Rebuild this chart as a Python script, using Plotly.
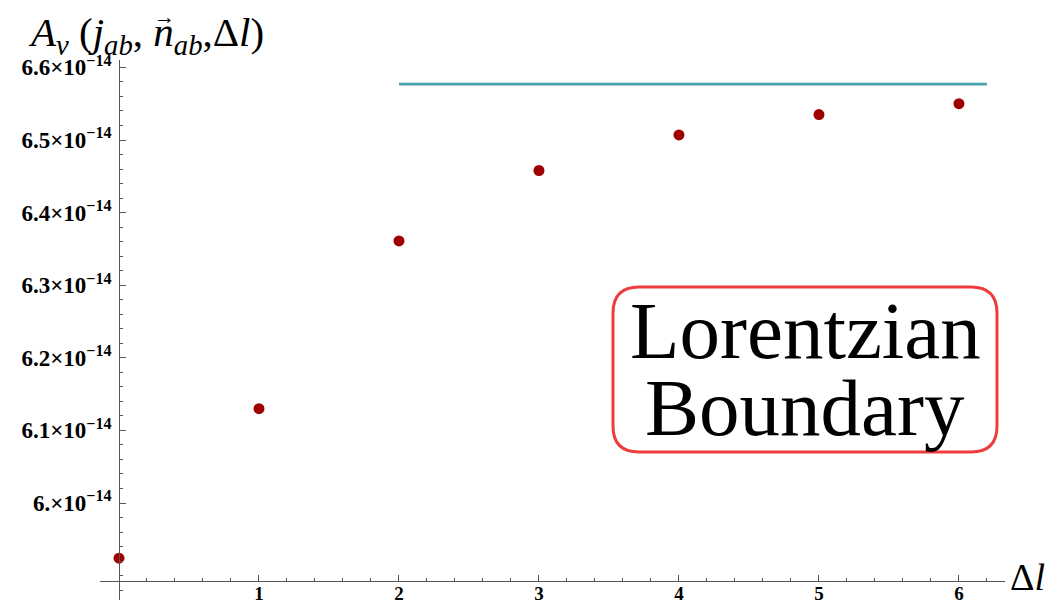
import plotly.graph_objects as go

# ---- data ----
delta_l = [0, 1, 2, 3, 4, 5, 6]
a_v = [5.924e-14, 6.130e-14, 6.361e-14, 6.458e-14, 6.507e-14, 6.535e-14, 6.550e-14]
asym_x = [2, 6.2]
asym_y = [6.577e-14, 6.577e-14]

x_tickvals = [0, 1, 2, 3, 4, 5, 6]
x_ticktext = ["", "1", "2", "3", "4", "5", "6"]
y_tickvals = [6.0e-14, 6.1e-14, 6.2e-14, 6.3e-14, 6.4e-14, 6.5e-14, 6.6e-14]
y_ticktext = ["6.\u00d710<sup>\u221214</sup>", "6.1\u00d710<sup>\u221214</sup>",
              "6.2\u00d710<sup>\u221214</sup>", "6.3\u00d710<sup>\u221214</sup>",
              "6.4\u00d710<sup>\u221214</sup>", "6.5\u00d710<sup>\u221214</sup>",
              "6.6\u00d710<sup>\u221214</sup>"]

W, H = 1053, 604
ML, MR, MT, MB = 100, 48, 60, 4
PW, PH = W - ML - MR, H - MT - MB


def px(x):
    return (x - ML) / PW


def py(y):
    return (H - MB - y) / PH


fig = go.Figure()
fig.add_trace(go.Scatter(x=asym_x, y=asym_y, mode="lines",
                         line=dict(color="#4aa2ae", width=2.6),
                         hoverinfo="skip", showlegend=False))
fig.add_trace(go.Scatter(x=delta_l, y=a_v, mode="markers",
                         marker=dict(color="#9e0000", size=11, line=dict(width=0)),
                         showlegend=False))

serif = "Liberation Serif"
axcol = "#555555"

fig.update_layout(
    width=W, height=H, autosize=False,
    margin=dict(l=ML, r=MR, t=MT, b=MB, autoexpand=False),
    plot_bgcolor="white", paper_bgcolor="white",
    xaxis=dict(range=[-0.1357, 6.329], anchor="free", position=py(580.7), automargin=False,
               showgrid=False, zeroline=False, showline=True, linecolor=axcol, linewidth=1,
               tickvals=x_tickvals, ticktext=x_ticktext, ticks="inside", ticklen=6,
               tickcolor=axcol, tickwidth=1, ticklabelstandoff=-5,
               tickfont=dict(family=serif, size=19, color="black", weight="bold"),
               minor=dict(tick0=0, dtick=0.2, ticks="inside", ticklen=3, tickcolor=axcol, showgrid=False)),
    yaxis=dict(range=[5.8664e-14, 6.6102e-14], anchor="free", position=px(119.2), automargin=False,
               showgrid=False, zeroline=False, showline=True, linecolor=axcol, linewidth=1,
               tickvals=y_tickvals, ticktext=y_ticktext, ticks="inside", ticklen=6,
               tickcolor=axcol, tickwidth=1, ticklabelstandoff=3,
               tickfont=dict(family=serif, size=23, color="black", weight="bold"),
               minor=dict(tick0=6.0e-14, dtick=0.02e-14, ticks="inside", ticklen=3, tickcolor=axcol, showgrid=False)),
)

# rounded box in paper coords
x0, x1 = px(613), px(997)
y0, y1 = py(452), py(287)
rx, ry = 26 / PW, 26 / PH
path = (f"M {x0+rx},{y1} L {x1-rx},{y1} Q {x1},{y1} {x1},{y1-ry} "
        f"L {x1},{y0+ry} Q {x1},{y0} {x1-rx},{y0} "
        f"L {x0+rx},{y0} Q {x0},{y0} {x0},{y0+ry} "
        f"L {x0},{y1-ry} Q {x0},{y1} {x0+rx},{y1} Z")
fig.add_shape(type="path", path=path, xref="paper", yref="paper",
              line=dict(color="#f03c3c", width=3), fillcolor="white", layer="above")

fig.add_annotation(text="Lorentzian", x=px(805), y=py(331), xref="paper", yref="paper",
                   showarrow=False, xanchor="center", yanchor="middle",
                   font=dict(family=serif, size=81, color="black"))
fig.add_annotation(text="Boundary", x=px(805), y=py(408), xref="paper", yref="paper",
                   showarrow=False, xanchor="center", yanchor="middle",
                   font=dict(family=serif, size=81, color="black"))

# axis labels
fig.add_annotation(text="<i>A</i><sub><i>v</i></sub> (<i>j</i><sub><i>ab</i></sub>, <i>n</i><sub><i>ab</i></sub>,\u0394<i>l</i>)",
                   x=px(26), y=py(35), xref="paper", yref="paper", showarrow=False,
                   xanchor="left", yanchor="middle",
                   font=dict(family=serif, size=41, color="black"))
fig.add_annotation(text="\u2192", x=px(164), y=py(17), xref="paper", yref="paper",
                   showarrow=False, xanchor="center", yanchor="middle",
                   font=dict(family=serif, size=21, color="black"))
fig.add_annotation(text="\u0394<i>l</i>", x=px(1008), y=py(577), xref="paper", yref="paper",
                   showarrow=False, xanchor="left", yanchor="middle",
                   font=dict(family=serif, size=38, color="black"))

fig.write_html("out.html", config={"displayModeBar": False},
               post_script="document.body.style.margin='0';document.body.style.overflow='hidden';")
